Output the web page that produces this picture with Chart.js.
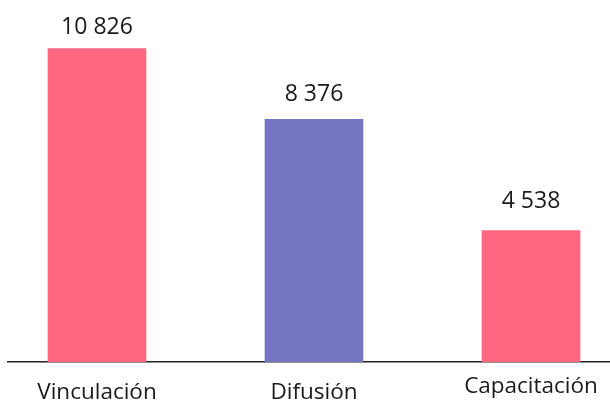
<!DOCTYPE html>
<html>
<head>
<meta charset="utf-8">
<script src="https://cdn.jsdelivr.net/npm/chart.js@4"></script>
<style>
    html, body { margin: 0; padding: 0; background: #fff; }
    #wrap { width: 610px; height: 400px; }
</style>
</head>
<body>
<div id="wrap"><canvas id="chart"></canvas></div>
<script>
    "use strict";

    // Data
    const categories = ["Vinculación", "Difusión", "Capacitación"];
    const values = [10826, 8376, 4538];
    const barColors = ["#ff6680", "#7474c0", "#ff6680"];

    const fmt = (v) => String(v).replace(/\B(?=(\d{3})+(?!\d))/g, " ");

    // value labels above bars + category labels under the axis
    const labelsPlugin = {
        id: "labels",
        afterDatasetsDraw(chart) {
            const ctx = chart.ctx;
            const xs = chart.scales.x;
            const meta = chart.getDatasetMeta(0);
            const lift = [14, 18, 23];
            const shift = [0, 0, -6];
            ctx.save();
            ctx.fillStyle = "#1a1a1a";
            ctx.textAlign = "center";
            ctx.textBaseline = "alphabetic";
            ctx.font = "23px 'Open Sans'";
            meta.data.forEach((bar, i) => {
                ctx.fillText(fmt(values[i]), bar.x, bar.y - lift[i]);
            });
            ctx.font = "22.5px 'Open Sans'";
            categories.forEach((c, i) => {
                ctx.fillText(c, xs.getPixelForValue(i), chart.chartArea.bottom + 37 + shift[i]);
            });
            ctx.restore();
        },
    };

    const ctx = document.getElementById("chart").getContext("2d");
    new Chart(ctx, {
        type: "bar",
        data: {
            datasets: [
                {
                    data: categories.map((c, i) => ({ x: i, y: values[i] })),
                    backgroundColor: barColors,
                    borderWidth: 0,
                    barThickness: 98,
                },
            ],
        },
        options: {
            responsive: true,
            maintainAspectRatio: false,
            animation: false,
            layout: {
                padding: { left: 8, top: 0, right: 0, bottom: 30 },
            },
            plugins: {
                legend: { display: false },
                tooltip: { enabled: false },
            },
            scales: {
                x: {
                    type: "linear",
                    offset: false,
                    min: -0.41,
                    max: 2.364,
                    ticks: { display: false },
                    grid: { display: false, offset: false },
                    border: { display: true, color: "#222", width: 1.5 },
                },
                y: {
                    min: 0,
                    max: 12500,
                    display: false,
                },
            },
        },
        plugins: [labelsPlugin],
    });
</script>
</body>
</html>
